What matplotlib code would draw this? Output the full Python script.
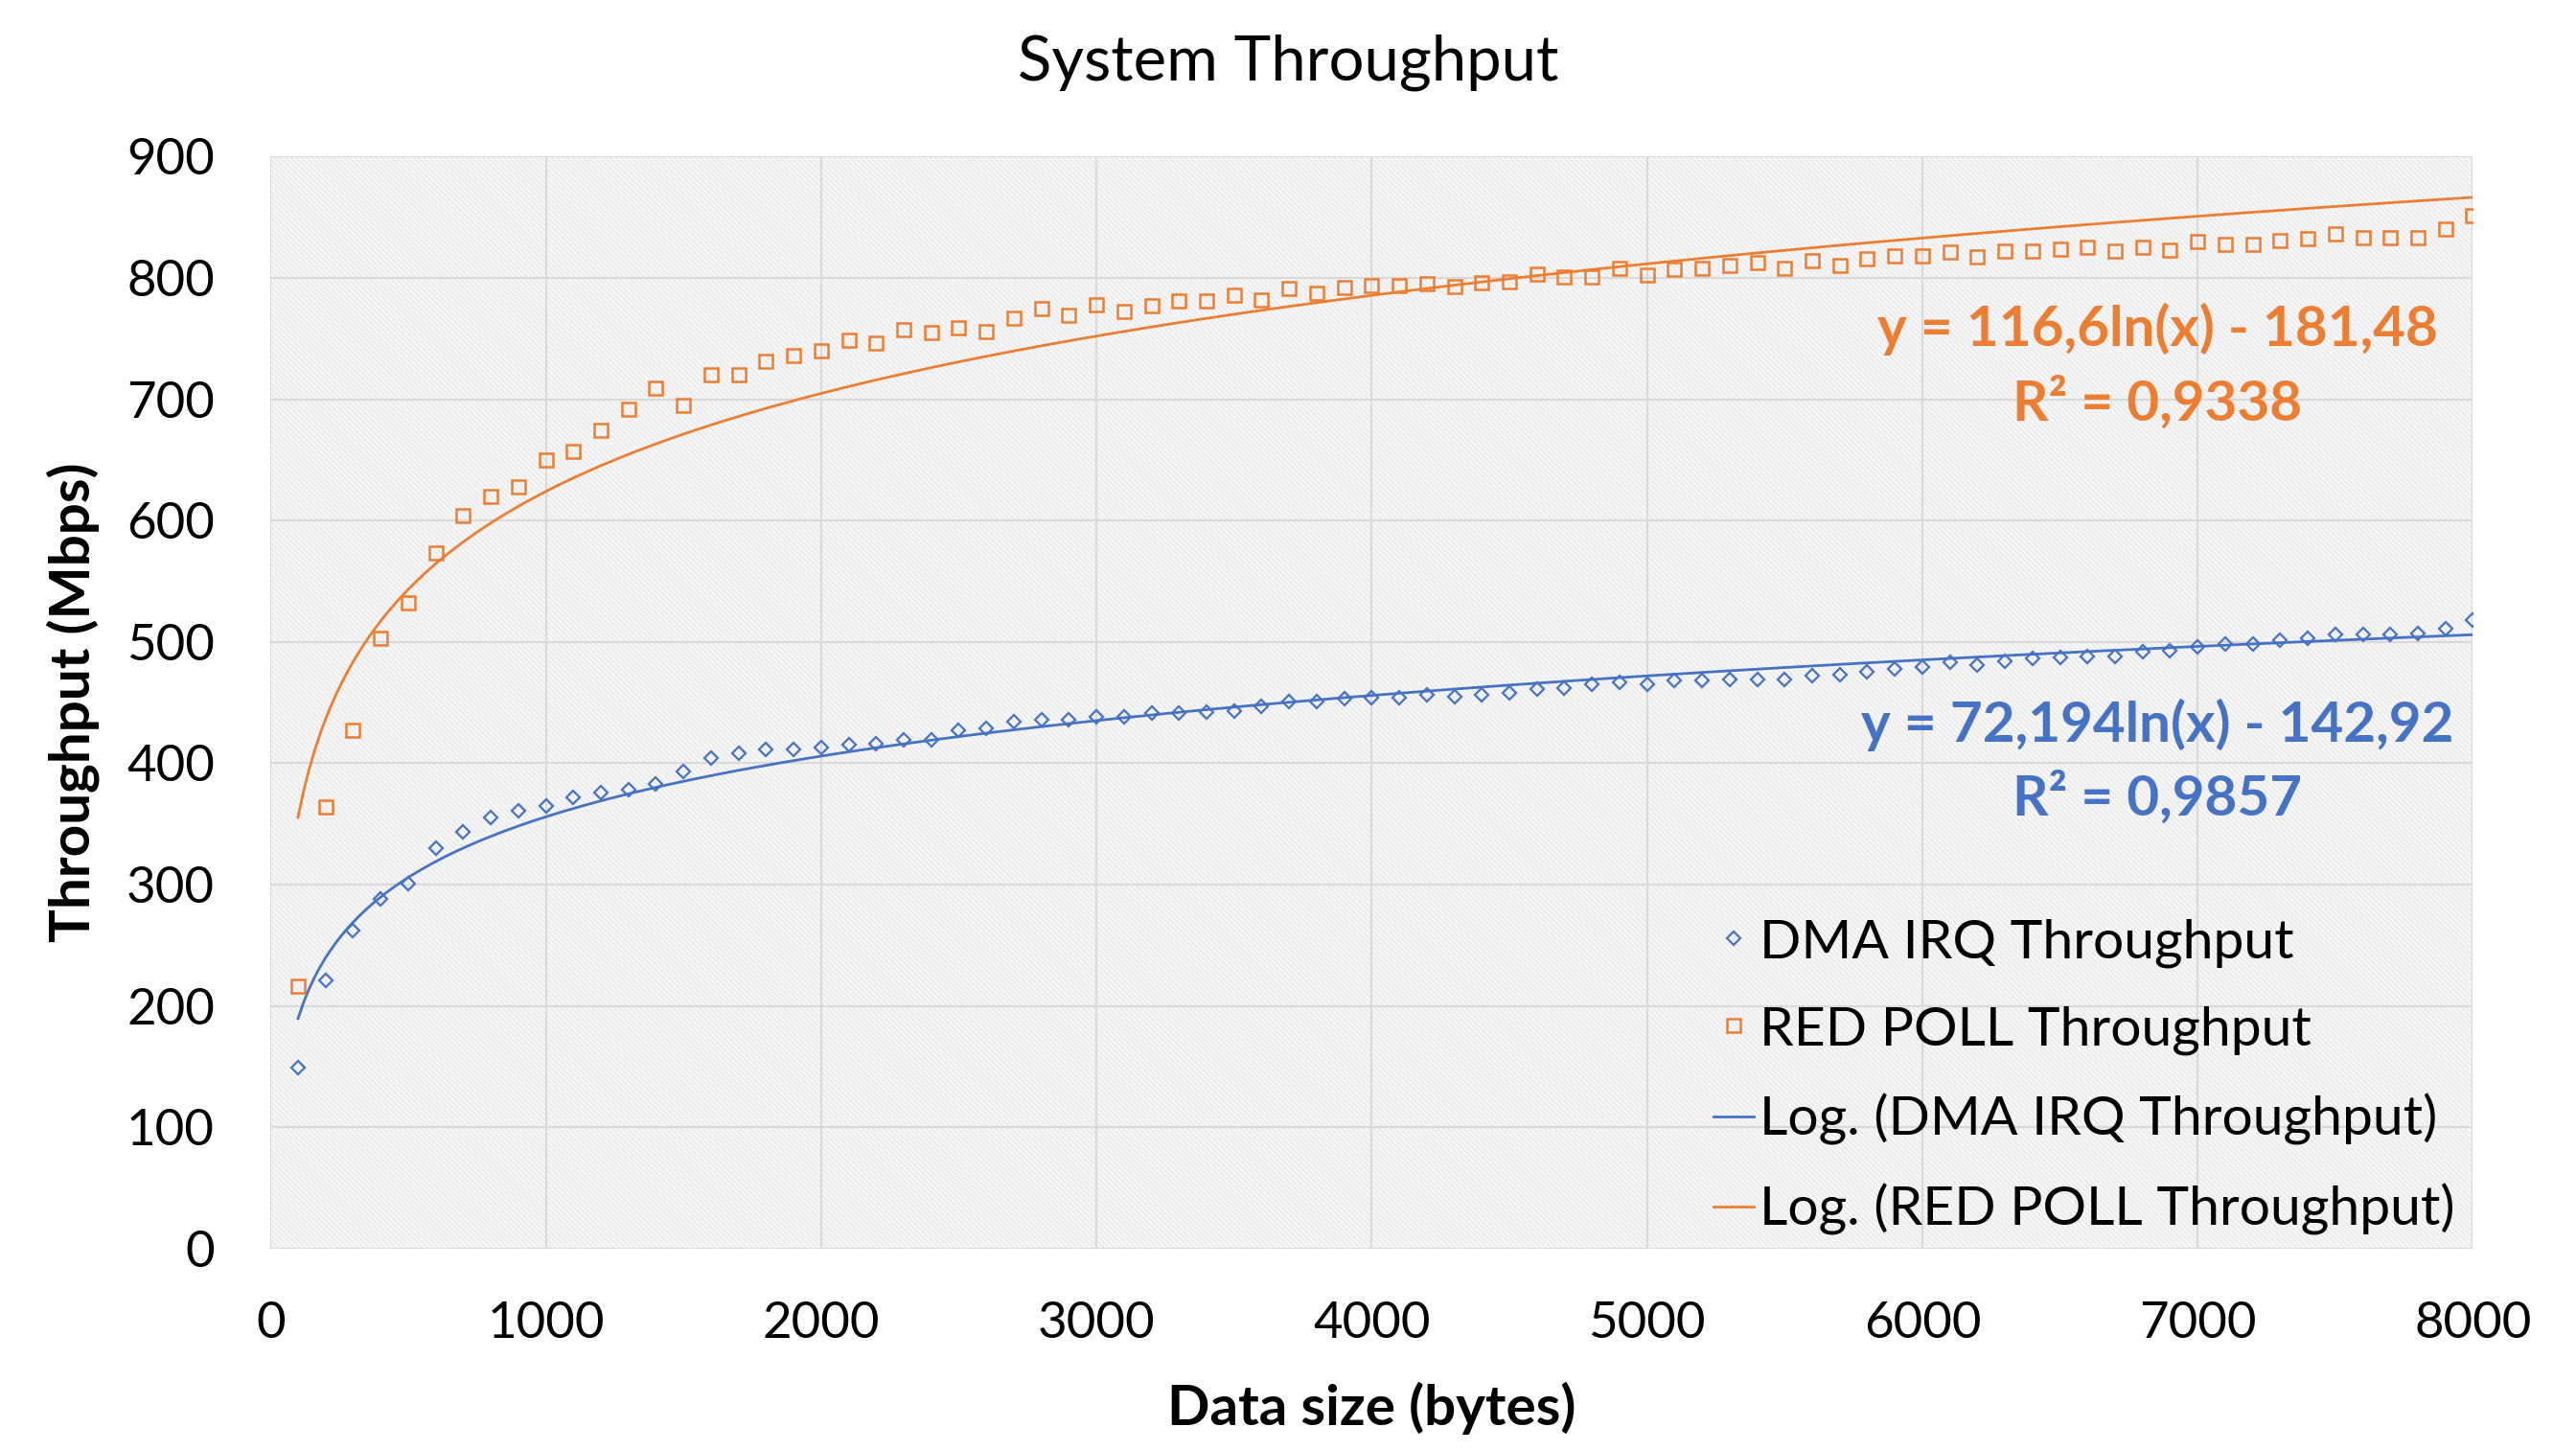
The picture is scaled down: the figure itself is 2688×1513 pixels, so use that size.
import numpy as np
import matplotlib.pyplot as plt
from matplotlib.patches import Rectangle

# data size in bytes (100 .. 8000, step 100)
sizes = list(range(100, 8100, 100))

dma_irq = [149, 221, 262, 288, 301, 330, 343, 355, 361, 365,
           372, 376, 378, 383, 393, 404, 408, 411, 411, 413,
           415, 416, 419, 419, 427, 429, 434, 436, 436, 438,
           438, 441, 441, 442, 443, 447, 451, 451, 453, 454,
           454, 456, 455, 456, 458, 461, 462, 465, 467, 465,
           468, 468, 469, 469, 469, 472, 473, 475, 478, 479,
           483, 481, 484, 486, 487, 488, 488, 492, 493, 496,
           498, 498, 501, 503, 506, 506, 506, 507, 511, 518]

red_poll = [216, 364, 427, 503, 532, 573, 604, 620, 628, 650,
            657, 674, 692, 709, 695, 720, 720, 731, 736, 740,
            749, 746, 757, 755, 759, 756, 767, 775, 769, 778,
            772, 777, 781, 781, 786, 782, 791, 787, 792, 794,
            794, 795, 793, 796, 797, 803, 801, 801, 808, 802,
            807, 808, 810, 813, 808, 814, 810, 816, 818, 818,
            821, 817, 822, 822, 824, 825, 822, 825, 823, 830,
            828, 828, 831, 832, 836, 833, 833, 833, 840, 851]

# log trendline coefficients shown on the chart
dma_a, dma_b = 72.194, -142.92
red_a, red_b = 116.6, -181.48
dma_r2 = "0,9857"
red_r2 = "0,9338"

blue = "#4472C4"
orange = "#ED7D31"

plt.rcParams['font.family'] = ['Lato', 'DejaVu Sans']
plt.rcParams['hatch.linewidth'] = 1.0

fig = plt.figure(figsize=(26.88, 15.13), dpi=100)
ax = fig.add_axes([0.105, 0.139, 0.855, 0.753])

# textured plot area like the excel pattern fill
ax.set_facecolor("#f7f7f7")
ax.add_patch(Rectangle((0, 0), 1, 1, transform=ax.transAxes, facecolor="none",
                       edgecolor="#e8e8e8", hatch="\\\\\\\\\\\\", linewidth=0, zorder=0))

x = np.array(sizes, dtype=float)
xt = np.linspace(sizes[0], sizes[-1], 400)

ax.plot(x, dma_irq, linestyle="none", marker="D", markersize=7.5,
        markerfacecolor="none", markeredgecolor=blue, markeredgewidth=1.6,
        label="DMA IRQ Throughput", zorder=3)
ax.plot(x, red_poll, linestyle="none", marker="s", markersize=10.5,
        markerfacecolor="none", markeredgecolor=orange, markeredgewidth=1.8,
        label="RED POLL Throughput", zorder=3)
ax.plot(xt, dma_a * np.log(xt) + dma_b, color=blue, linewidth=2,
        label="Log. (DMA IRQ Throughput)", zorder=2)
ax.plot(xt, red_a * np.log(xt) + red_b, color=orange, linewidth=2,
        label="Log. (RED POLL Throughput)", zorder=2)

ax.set_xlim(0, 8000)
ax.set_ylim(0, 900)
ax.set_xticks(range(0, 8001, 1000))
ax.set_yticks(range(0, 901, 100))
ax.grid(True, color="#d9d9d9", linewidth=1.5)
ax.set_axisbelow(True)
for s in ax.spines.values():
    s.set_visible(False)
ax.tick_params(length=0, labelsize=38)
ax.tick_params(axis="y", pad=42)
ax.tick_params(axis="x", pad=40)

fig.text(0.5, 0.957, "System Throughput", fontsize=47, ha="center", va="center")
ax.set_xlabel("Data size (bytes)", fontsize=42, fontweight="bold", va="center")
ax.xaxis.set_label_coords(0.5, -0.146)
ax.set_ylabel("Throughput (Mbps)", fontsize=42, fontweight="bold", va="center")
ax.yaxis.set_label_coords(-0.0896, 0.5)

# trendline equations
ax.text(6854, 727, "y = 116,6ln(x) - 181,48\nR² = " + red_r2, color=orange,
        fontsize=42, fontweight="bold", ha="center", va="center", linespacing=1.45)
ax.text(6854, 401, "y = 72,194ln(x) - 142,92\nR² = " + dma_r2, color=blue,
        fontsize=42, fontweight="bold", ha="center", va="center", linespacing=1.45)

leg = ax.legend(loc="lower left", bbox_to_anchor=(0.655, 0.012), fontsize=41,
                frameon=False, handlelength=0.75, handletextpad=0.1,
                labelspacing=0.7, borderaxespad=0, borderpad=0)

fig.savefig("out.png", dpi=100)
